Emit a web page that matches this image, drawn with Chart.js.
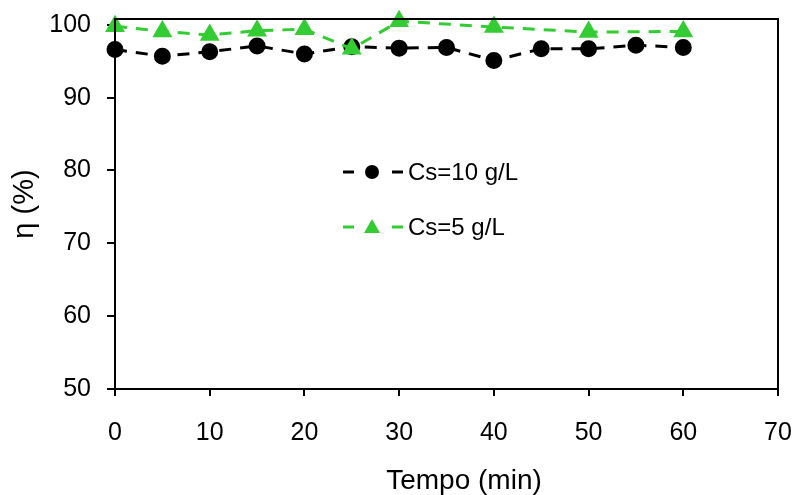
<!DOCTYPE html>
<html>
<head>
<meta charset="utf-8">
<script src="https://cdn.jsdelivr.net/npm/chart.js@4/dist/chart.umd.min.js"></script>
<style>
  html, body { margin: 0; padding: 0; background: #fff; }
  #wrap { width: 795px; height: 495px; position: relative; }
</style>
</head>
<body>
<div id="wrap"><canvas id="chart" width="795" height="495"></canvas></div>
<script>
// =============================================================================
// DATA
// =============================================================================

const timeCs10 = [0, 5, 10, 15, 20, 25, 30, 35, 40, 45, 50, 55, 60];
const etaCs10 = [96.6, 95.7, 96.3, 97.1, 96.0, 97.0, 96.8, 96.9, 95.1, 96.7, 96.7, 97.2, 96.9];

const timeCs5 = [0, 5, 10, 15, 20, 25, 30, 40, 50, 60];
const etaCs5 = [99.8, 99.1, 98.6, 99.2, 99.4, 96.7, 100.5, 99.7, 99.0, 99.1];

const xTicks = [0, 10, 20, 30, 40, 50, 60, 70];
const yTicks = [50, 60, 70, 80, 90, 100];

const seriesLabels = ['Cs=10 g/L', 'Cs=5 g/L'];
const xTitle = 'Tempo (min)';
const yTitle = 'η (%)';

const BLACK = '#000000';
const GREEN = '#33cc33';
const FONT = "'Liberation Sans', Arial, sans-serif";

// =============================================================================
// PLUGINS
// =============================================================================

// Box around the plot area + x axis title (sits a bit right of centre)
const frame = {
  id: 'frame',
  afterDraw(chart) {
    const { ctx, chartArea: a } = chart;
    ctx.save();
    ctx.strokeStyle = BLACK;
    ctx.lineWidth = 2;
    ctx.strokeRect(a.left, a.top, a.right - a.left, a.bottom - a.top);
    ctx.fillStyle = BLACK;
    ctx.font = '28px ' + FONT;
    ctx.textAlign = 'center';
    ctx.textBaseline = 'middle';
    ctx.fillText(xTitle, 464, 481);
    ctx.restore();
  }
};

// Legend inside the plot, Excel style
const innerLegend = {
  id: 'innerLegend',
  afterDraw(chart) {
    const { ctx } = chart;
    const x0 = 343, rows = [172, 227];
    ctx.save();
    seriesLabels.forEach((label, i) => {
      const ds = chart.data.datasets.find(d => d.label === label);
      const y = rows[i];
      const cx = x0 + 29;
      ctx.strokeStyle = ds.borderColor;
      ctx.lineWidth = 3;
      ctx.beginPath();
      ctx.moveTo(x0, y); ctx.lineTo(x0 + 11, y);
      ctx.moveTo(x0 + 49, y); ctx.lineTo(x0 + 60, y);
      ctx.stroke();
      ctx.fillStyle = ds.pointBackgroundColor;
      ctx.beginPath();
      if (ds.pointStyle === 'triangle') {
        ctx.moveTo(cx, y - 8);
        ctx.lineTo(cx + 8, y + 6);
        ctx.lineTo(cx - 8, y + 6);
        ctx.closePath();
      } else {
        ctx.arc(cx, y, 7, 0, Math.PI * 2);
      }
      ctx.fill();
      ctx.fillStyle = BLACK;
      ctx.font = '24px ' + FONT;
      ctx.textBaseline = 'middle';
      ctx.fillText(label, x0 + 65, y + 1);
    });
    ctx.restore();
  }
};

// =============================================================================
// CHART
// =============================================================================

const ctx = document.getElementById('chart').getContext('2d');

new Chart(ctx, {
  type: 'line',
  data: {
    datasets: [
      {
        label: seriesLabels[0],
        data: timeCs10.map((t, i) => ({ x: t, y: etaCs10[i] })),
        borderColor: BLACK,
        backgroundColor: BLACK,
        pointBackgroundColor: BLACK,
        pointBorderColor: BLACK,
        pointStyle: 'circle',
        pointRadius: 7,
        borderWidth: 3,
        borderDash: [12, 9],
        tension: 0,
        clip: false,
        order: 1
      },
      {
        label: seriesLabels[1],
        data: timeCs5.map((t, i) => ({ x: t, y: etaCs5[i] })),
        borderColor: GREEN,
        backgroundColor: GREEN,
        pointBackgroundColor: GREEN,
        pointBorderColor: GREEN,
        pointStyle: 'triangle',
        pointRadius: 8.5,
        borderWidth: 3,
        borderDash: [12, 9],
        tension: 0,
        clip: false,
        order: 0
      }
    ]
  },
  options: {
    responsive: false,
    animation: false,
    layout: { padding: { top: 19, right: 0, left: 0, bottom: 0 } },
    plugins: {
      legend: { display: false },
      tooltip: { enabled: false }
    },
    scales: {
      x: {
        type: 'linear',
        min: 0,
        max: 70,
        afterBuildTicks: (axis) => { axis.ticks = xTicks.map(v => ({ value: v })); },
        afterFit: (axis) => { axis.height = 106; axis.paddingRight = 17; axis.paddingLeft = 0; },
        border: { display: true, color: BLACK, width: 2 },
        grid: { drawOnChartArea: false, color: BLACK, tickLength: 7, lineWidth: 2 },
        ticks: { color: BLACK, font: { family: FONT, size: 25 }, padding: 22, maxRotation: 0 }
      },
      y: {
        min: 50,
        max: 100.8,
        afterBuildTicks: (axis) => { axis.ticks = yTicks.map(v => ({ value: v })); },
        afterFit: (axis) => { axis.width = 115; axis.paddingTop = 0; },
        border: { display: true, color: BLACK, width: 2 },
        grid: { drawOnChartArea: false, color: BLACK, tickLength: 8, lineWidth: 2 },
        ticks: { color: BLACK, font: { family: FONT, size: 25 }, padding: 16 },
        title: {
          display: true,
          text: yTitle,
          color: BLACK,
          font: { family: FONT, size: 29 },
          padding: { top: 8, bottom: 0 }
        }
      }
    }
  },
  plugins: [frame, innerLegend]
});
</script>
</body>
</html>
